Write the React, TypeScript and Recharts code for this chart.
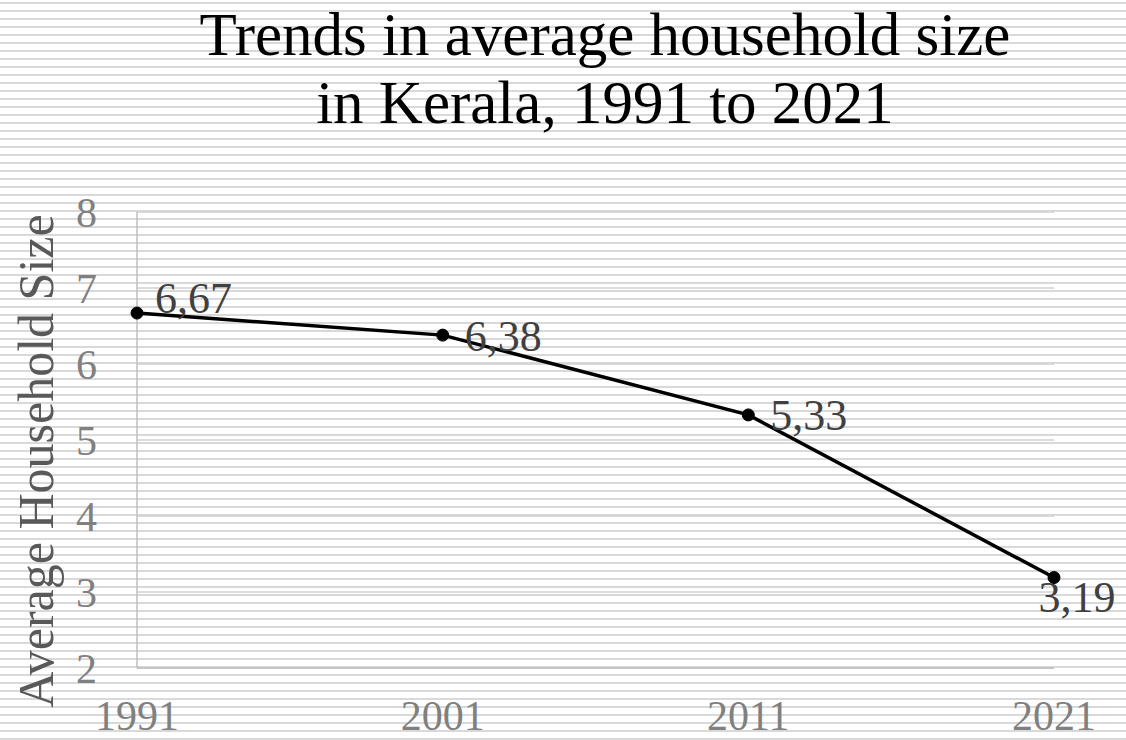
import React from 'react';
import { LineChart, Line, XAxis, YAxis, CartesianGrid, LabelList } from 'recharts';

const years = ['1991', '2001', '2011', '2021'];
const householdSize = [6.67, 6.38, 5.33, 3.19];
const yTicks = [2, 3, 4, 5, 6, 7, 8];

const data = years.map((year, i) => ({ year, size: householdSize[i] }));

const FONT = '"Liberation Serif", "DejaVu Serif", serif';

const ValueLabel = (props: any) => {
  const { x, y, value, index } = props;
  const text = String(value).replace('.', ',');
  if (index === householdSize.length - 1) {
    return (
      <text x={x + 23} y={y + 20} textAnchor="middle" dominantBaseline="central" fontSize={44} fill="#404040" fontFamily={FONT}>
        {text}
      </text>
    );
  }
  const dx = index === 0 ? 18 : 22;
  const dy = index === 0 ? -15 : 1;
  return (
    <text x={x + dx} y={y + dy} dominantBaseline="central" fontSize={44} fill="#404040" fontFamily={FONT}>
      {text}
    </text>
  );
};

const YLabel = () => (
  <text transform="translate(36,461) rotate(-90)" textAnchor="middle" dominantBaseline="central" fontSize={50} fill="#595959" fontFamily={FONT}>
    Average Household Size
  </text>
);

export default function App() {
  return (
    <div
      style={{
        position: 'absolute',
        left: 0,
        top: 0,
        width: 1126,
        height: 740,
        overflow: 'hidden',
        background: 'repeating-linear-gradient(to bottom, #ffffff 0px, #ffffff 2px, #d9d9d9 2px, #d9d9d9 4px, #ffffff 4px, #ffffff 8px)',
        fontFamily: FONT,
      }}
    >
      <div style={{ position: 'absolute', left: 0, top: 1, width: 1126, textAlign: 'center', fontSize: 61, lineHeight: '68px', color: '#000', paddingLeft: 84, boxSizing: 'border-box' }}>
        <div>Trends in average household size</div>
        <div>in Kerala, 1991 to 2021</div>
      </div>
      <LineChart width={1126} height={740} data={data} margin={{ top: 212, right: 72, bottom: 0, left: 0 }} style={{ position: 'absolute', left: 0, top: 0 }}>
        <CartesianGrid vertical={false} stroke="#d0d0d0" strokeWidth={1.5} />
        <XAxis
          dataKey="year"
          height={72}
          tickLine={false}
          tickSize={0}
          tickMargin={32}
          axisLine={{ stroke: '#bfbfbf', strokeWidth: 1.5 }}
          tick={{ fontSize: 42, fill: '#808080', fontFamily: FONT }}
          interval={0}
        />
        <YAxis
          width={137}
          domain={[2, 8]}
          ticks={yTicks}
          tickLine={false}
          tickSize={0}
          tickMargin={40}
          axisLine={{ stroke: '#bfbfbf', strokeWidth: 1.5 }}
          tick={{ fontSize: 42, fill: '#808080', fontFamily: FONT }}
          label={<YLabel />}
        />
        <Line
          type="linear"
          dataKey="size"
          stroke="#000000"
          strokeWidth={3.5}
          dot={{ r: 6, fill: '#000000', stroke: '#000000', strokeWidth: 1 }}
          isAnimationActive={false}
        >
          <LabelList dataKey="size" content={<ValueLabel />} />
        </Line>
      </LineChart>
    </div>
  );
}
